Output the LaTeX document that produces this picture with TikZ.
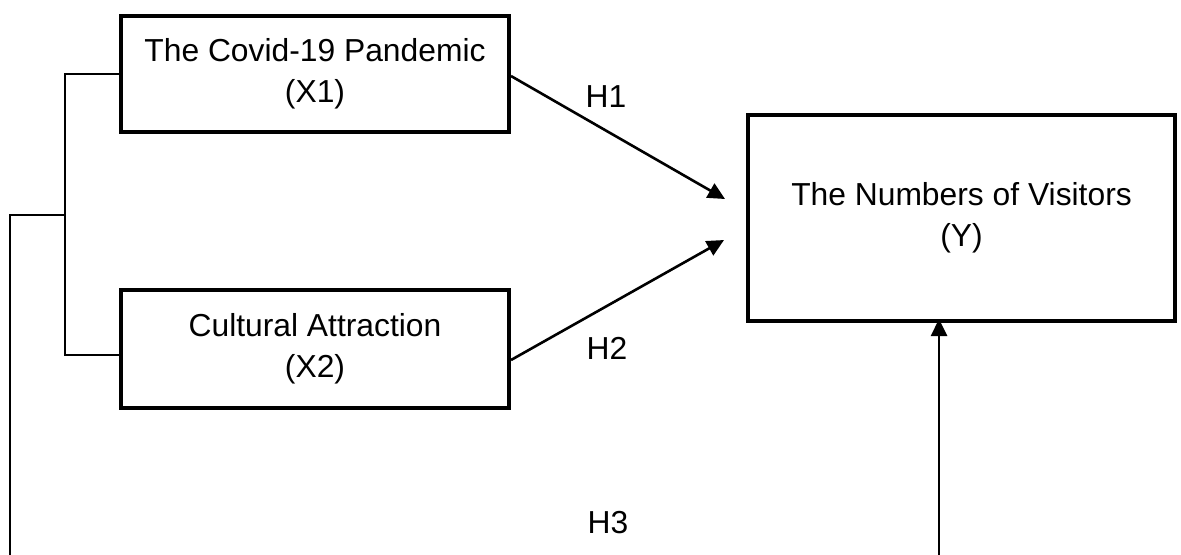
\documentclass[tikz,border=0pt]{standalone}
\usepackage{fontspec}
\setmainfont{Liberation Sans}
\usetikzlibrary{arrows.meta,positioning}

\begin{document}
\begin{tikzpicture}[x=0.5pt,y=-0.5pt,>={Triangle[length=8.5pt,width=8pt]},
  font=\fontsize{15.9}{20.5}\selectfont,
  var/.style={draw,line width=2pt,align=center,inner sep=0pt},
  link/.style={line width=1.3pt},
  hyp/.style={inner sep=0pt}]
  \useasboundingbox (0,0) rectangle (1181,554);

  \node[var,minimum width=194pt,minimum height=58pt] (x1) at (315,74) {The Covid-19 Pandemic\\(X1)};
  \node[var,minimum width=194pt,minimum height=59pt] (x2) at (315,349) {Cultural Attraction\\(X2)};
  \node[var,minimum width=213.5pt,minimum height=103pt] (y) at (961.5,218) {The Numbers of Visitors\\(Y)};

  \node[hyp] (h1) at (606,97) {H1};
  \node[hyp] (h2) at (607,348) {H2};
  \node[hyp] (h3) at (608,523) {H3};

  % free ends of the arrows
  \coordinate (t1) at (725,199);
  \coordinate (t2) at (724,240);
  \coordinate (jt) at (65,215);
  \coordinate (lf) at (10,215);
  \coordinate (lb) at (10,560);
  \coordinate (b3) at (939,560);

  \draw[link,->] ([yshift=-1pt]x1.east) -- (t1);
  \draw[link,->] ([yshift=-5.5pt]x2.east) -- (t2);
  \draw[link,->,shorten >=-2pt] (b3) -- (b3 |- y.south);

  % bracket joining X1 and X2
  \draw[link] (x1.west) -| (jt) |- ([yshift=-3pt]x2.west);
  \draw[link] (jt) -- (lf) -- (lb);
\end{tikzpicture}
\end{document}
